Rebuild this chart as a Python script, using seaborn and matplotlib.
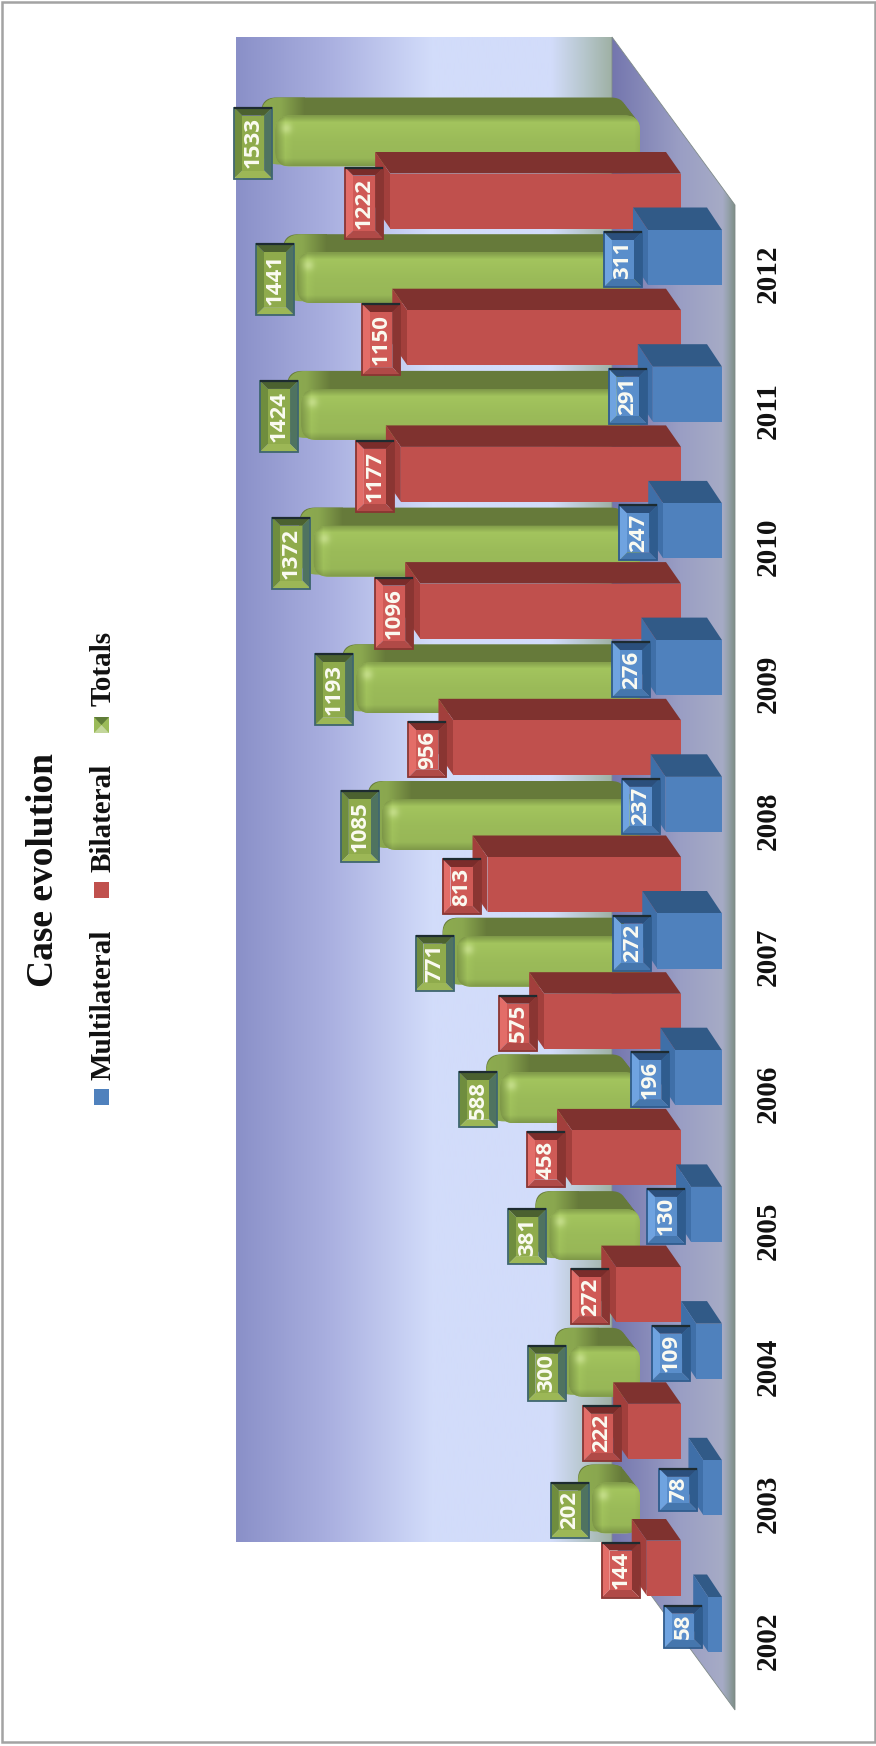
import matplotlib
matplotlib.use("Agg")
import matplotlib.pyplot as plt
from matplotlib.colors import LinearSegmentedColormap, to_rgb
from matplotlib.patches import FancyBboxPatch, Polygon, Rectangle
import numpy as np
import pandas as pd
import seaborn as sns

YEARS = [2002, 2003, 2004, 2005, 2006, 2007, 2008, 2009, 2010, 2011, 2012]
MULTILATERAL = [58, 78, 109, 130, 196, 272, 237, 276, 247, 291, 311]
BILATERAL = [144, 222, 272, 458, 575, 813, 956, 1096, 1177, 1150, 1222]
TOTALS = [202, 300, 381, 588, 771, 1085, 1193, 1372, 1424, 1441, 1533]

FIG_W, FIG_H = 876, 1746
PX_PER_CASE = 0.238
PX_PER_YEAR = 136.7
BASE_X = 722      # where a zero bar of the front row starts
BASE_Y = 1624.5   # centre of the 2002 front bar
WALL_L, WALL_R, WALL_T, WALL_B = 236, 612, 37, 1542
FLOOR_R, FLOOR_T, FLOOR_B = 735, 205, 1710
ROUND = 15

STYLE = {
    "Totals": dict(vals=TOTALS, sx=82, sy=116.5, h=51, depth=(-14, -18), gap=3, face="#9bbb59", top="#667a3a",
                   edge="#3f6670", bevel=("#6f8d3e", "#4b6130", "#4f7360", "#9cb756", "#8fab4c")),
    "Bilateral": dict(vals=BILATERAL, sx=41, sy=56.5, h=55, depth=(-15, -21.5), gap=7, face="#c0504d", top="#7f322f",
                      end="#a23f3c", edge="#8a3532",
                      bevel=("#e36d68", "#7a2c2a", "#8a3532", "#b04a47", "#cf5a56")),
    "Multilateral": dict(vals=MULTILATERAL, sx=0, sy=0, h=55, depth=(-15, -22.5), gap=6, face="#4f81bd", top="#315a87",
                         end="#3f6fa8", edge="#2f5c8e",
                         bevel=("#6fa3e0", "#2b4f7c", "#2f5c8e", "#4576ad", "#5a8ecb")),
}

sns.set_theme(style="white")
plt.rcParams["font.family"] = ["Liberation Serif", "DejaVu Serif"]

fig = plt.figure(figsize=(FIG_W / 100, FIG_H / 100), dpi=100, facecolor="white")

# pixel axes for wall, floor and everything that is not tied to a value
bg = fig.add_axes([0, 0, 1, 1], zorder=0)
bg.set_xlim(0, FIG_W)
bg.set_ylim(FIG_H, 0)
bg.axis("off")
px = bg.transData


def gradient(axes, stops, extent, horizontal=True, **kws):
    cmap = LinearSegmentedColormap.from_list("g", stops)
    ramp = np.linspace(0, 1, 256)
    ramp = ramp[None, :] if horizontal else ramp[:, None]
    return axes.imshow(ramp, cmap=cmap, extent=extent, aspect="auto", interpolation="bilinear", **kws)


def pipe_face(w, h, color):
    # soft shading for the front of a rounded bar
    xs = np.arange(int(w) + 1)
    ys = np.linspace(0, 1, int(h) + 1)
    fy = np.interp(ys, [0, 0.14, 0.5, 0.85, 1], [0.82, 1.05, 1.0, 0.98, 0.82])
    fx = np.interp(xs, [0, 10, 18, w - 6, w], [0.82, 1.04, 1.0, 1.0, 0.95])
    shade = np.outer(fy, fx)
    yy, xx = np.mgrid[0:len(ys), 0:len(xs)]
    glow = np.exp(-((xx - 11) ** 2 + (yy - 13) ** 2) / 30.0)[..., None] * 0.4
    rgb = np.clip(np.array(to_rgb(color))[None, None, :] * shade[..., None], 0, 1)
    return rgb * (1 - glow) + glow * np.array([0.92, 0.97, 0.75])


# back wall
gradient(bg, [(0, "#8a90c8"), (0.25, "#aab0e0"), (0.52, "#d2dcfa"), (0.84, "#d2dcfa"), (0.93, "#b6c6cc"), (1, "#9fb1a5")],
         (WALL_L, WALL_R, WALL_B, WALL_T))

# floor
floor_pts = [(WALL_R, WALL_T), (FLOOR_R, FLOOR_T), (FLOOR_R, FLOOR_B), (WALL_R, WALL_B)]
floor = Polygon(floor_pts, closed=True, transform=px, facecolor="none", edgecolor="#7f8a88", lw=0.6)
bg.add_patch(floor)
im = gradient(bg, [(0, "#7476ae"), (0.55, "#9a9ec4"), (0.9, "#a6abc6"), (0.94, "#98a3b0"), (1, "#7f8f88")],
              (WALL_R, FLOOR_R, FLOOR_B, WALL_T), zorder=0.5)
im.set_clip_path(floor)

# outer frame
bg.add_patch(Rectangle((1.5, 1.5), 873, 1740, fill=False, edgecolor="#a3a3a3", lw=1.8))

# title and legend
bg.text(44, 870, "Case evolution", rotation=90, ha="center", va="center", fontsize=27, fontweight="bold", color="#111111")
LEGEND = [("Multilateral", 1005, 1097, "#4f81bd"), ("Bilateral", 818, 890, "#c0504d"), ("Totals", 668, 725, "#9bbb59")]
for name, text_y, mark_y, col in LEGEND:
    bg.text(103, text_y, name, rotation=90, ha="center", va="center", fontsize=21, fontweight="bold", color="#111111")
    bg.add_patch(Rectangle((94, mark_y - 8), 15, 16, color=col, lw=0))
bg.add_patch(Polygon([(94, 717), (109, 717), (101.5, 725)], color="#5f7c38", lw=0))
bg.add_patch(Polygon([(94, 733), (109, 733), (101.5, 725)], color="#c3d69b", lw=0))

# value axes, the bars live here
ax = fig.add_axes([WALL_L / FIG_W, 1 - FLOOR_B / FIG_H, (FLOOR_R - WALL_L) / FIG_W, (FLOOR_B - WALL_T) / FIG_H], zorder=1)
ax.patch.set_visible(False)


def bevel_label(xr, yc, text, st, z):
    h = {2: 42, 3: 55, 4: 71}[len(text)]
    w, b = 38, 8
    x0, x1, y0, y1 = xr - w, xr, yc + 2 - h / 2, yc + 2 + h / 2
    left, top, right, bottom, inner = st["bevel"]
    kw = dict(transform=px, lw=0, zorder=z, clip_on=False)
    ax.add_patch(Polygon([(x0, y0), (x0 + b, y0 + b), (x0 + b, y1 - b), (x0, y1)], color=left, **kw))
    ax.add_patch(Polygon([(x0, y0), (x1, y0), (x1 - b, y0 + b), (x0 + b, y0 + b)], color=top, **kw))
    ax.add_patch(Polygon([(x1, y0), (x1, y1), (x1 - b, y1 - b), (x1 - b, y0 + b)], color=right, **kw))
    ax.add_patch(Polygon([(x0, y1), (x1, y1), (x1 - b, y1 - b), (x0 + b, y1 - b)], color=bottom, **kw))
    ax.add_patch(Rectangle((x0 + b, y0 + b), w - 2 * b, h - 2 * b, color=inner, **kw))
    ax.add_patch(Rectangle((x0, y0), w, h, fill=False, edgecolor=st["edge"], lw=1.3, transform=px, zorder=z + 0.05, clip_on=False))
    ax.plot([x0, x1], [y0, y0], color="#1d2b30", lw=1.6, transform=px, zorder=z + 0.06, clip_on=False, solid_capstyle="butt")
    ax.text((x0 + x1) / 2, yc + 2, text, transform=px, rotation=90, ha="center", va="center", color="#fbfbf2",
            fontsize=16, fontweight="bold", family=["Open Sans", "DejaVu Sans"], zorder=z + 0.1, clip_on=False)


x_lim = ((BASE_X - WALL_L) / PX_PER_CASE, (BASE_X - FLOOR_R) / PX_PER_CASE)
y_lim = (YEARS[0] - (FLOOR_B - BASE_Y) / PX_PER_YEAR, YEARS[0] + (BASE_Y - WALL_T) / PX_PER_YEAR)

bars = {}
for name, st in STYLE.items():
    df = pd.DataFrame({"Cases": st["vals"], "Pos": np.array(YEARS) + st["sy"] / PX_PER_YEAR})
    before = len(ax.patches)
    sns.barplot(data=df, x="Cases", y="Pos", orient="h", native_scale=True, color=st["face"], saturation=1,
                width=st["h"] / PX_PER_YEAR, left=st["sx"] / PX_PER_CASE, errorbar=None, ax=ax, linewidth=0)
    bars[name] = ax.patches[before:]

ax.set_xlim(*x_lim)
ax.set_ylim(*y_lim)
to_px = ax.transData + px.inverted()

labels = []
for row, (name, st) in enumerate(STYLE.items()):
    z = 10 + row * 10
    dx, dy = st["depth"]
    for bar, val in zip(bars[name], st["vals"]):
        (xa, ya), (xb, yb) = to_px.transform(bar.get_bbox().get_points())
        xl, xr, yt, yb = min(xa, xb), max(xa, xb), min(ya, yb), max(ya, yb)
        bar.set_zorder(z + 1)
        if name == "Totals":
            w, h = xr - xl, yb - yt
            rnd = min(ROUND, w / 2)
            box = f"round,pad=0,rounding_size={rnd}"
            # the pipe seen from above: swept rounded outline, light at the value end, dark on top
            for t in np.linspace(1, 0.1, 8):
                ax.add_patch(FancyBboxPatch((xl + dx * t, yt + dy * t), w, h, boxstyle=box, transform=px,
                                            facecolor=st["top"], lw=0, zorder=z))
            hull = FancyBboxPatch((xl + dx, yt + dy), w - dx * 0.2, h - dy - 2, boxstyle=f"round,pad=0,rounding_size={rnd + 3}",
                                  transform=px)
            cap = gradient(ax, [(0, "#8dab50"), (0.45, "#8aa74f"), (1, "#667a3a")], (xl + dx, xl + 30, yb, yt + dy),
                           transform=px, zorder=z + 0.5)
            cap.set_clip_path(hull)
            shape = FancyBboxPatch((xl, yt), w, h, boxstyle=box, transform=px)
            bar.set_clip_path(shape)
            body = ax.imshow(pipe_face(w, h, st["face"]), extent=(xl, xr, yb, yt), aspect="auto", interpolation="bilinear",
                             transform=px, zorder=z + 2)
            body.set_clip_path(shape)
        else:
            ax.add_patch(Polygon([(xl, yt), (xr, yt), (xr + dx, yt + dy), (xl + dx, yt + dy)], transform=px,
                                 facecolor=st["top"], lw=0, zorder=z))
            ax.add_patch(Polygon([(xl, yt), (xl, yb), (xl + dx, yb + dy), (xl + dx, yt + dy)], transform=px,
                                 facecolor=st["end"], lw=0, zorder=z))
        labels.append((xl - st["gap"], (yt + yb) / 2, str(val), st))

for xr, yc, text, st in labels:
    bevel_label(xr, yc, text, st, 50)

# year labels stand on the right of the floor
ax.set_yticks(np.array(YEARS) - 16 / PX_PER_YEAR, labels=YEARS, rotation=90, va="center", fontsize=21, fontweight="bold",
              color="#111111")
ax.yaxis.tick_right()
ax.tick_params(axis="y", length=0, pad=14)
ax.set_xticks([])
ax.set_xlabel("")
ax.set_ylabel("")
sns.despine(ax=ax, left=True, bottom=True, top=True, right=True)

fig.savefig("out.png", dpi=100)
